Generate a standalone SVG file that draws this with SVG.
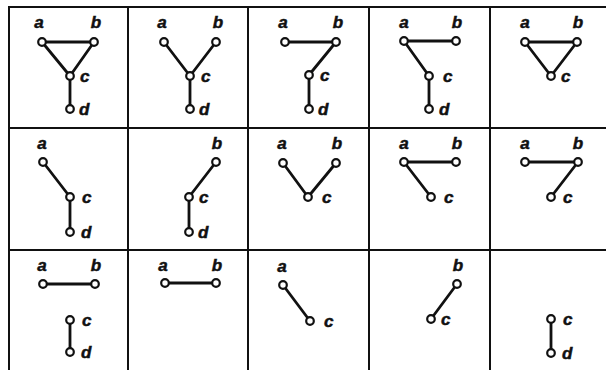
<svg xmlns="http://www.w3.org/2000/svg" width="606" height="370" viewBox="0 0 606 370">
<style>
.grid{stroke:#111;stroke-width:2;fill:none}
.edge{stroke:#111;stroke-width:2.8;fill:none;stroke-linecap:round}
.node circle{fill:#fff;stroke:#111;stroke-width:2.2}
.node text{font-family:"Liberation Sans",Arial,sans-serif;font-weight:bold;font-style:italic;font-size:17px;fill:#111;stroke:#111;stroke-width:0.5}
.top{text-anchor:middle}
</style>
<rect width="606" height="370" fill="#fff"/>
<g id="grid" class="grid">
<line x1="9" y1="6" x2="9" y2="370"/>
<line x1="128" y1="6" x2="128" y2="370"/>
<line x1="248" y1="6" x2="248" y2="370"/>
<line x1="369" y1="6" x2="369" y2="370"/>
<line x1="490" y1="6" x2="490" y2="370"/>
<line x1="8" y1="7" x2="606" y2="7"/>
<line x1="8" y1="128" x2="606" y2="128"/>
<line x1="8" y1="250" x2="606" y2="250"/>
</g>
<g id="connectors" class="edge">
<line x1="42" y1="42" x2="94" y2="42"/><line x1="42" y1="42" x2="70" y2="76"/><line x1="94" y1="42" x2="70" y2="76"/><line x1="70" y1="76" x2="70" y2="109"/>
<line x1="164" y1="42" x2="190" y2="76"/><line x1="216" y1="42" x2="190" y2="76"/><line x1="190" y1="76" x2="190" y2="109"/>
<line x1="285" y1="42" x2="336" y2="42"/><line x1="336" y1="42" x2="309" y2="75"/><line x1="309" y1="75" x2="309" y2="109"/>
<line x1="404" y1="41" x2="456" y2="41"/><line x1="404" y1="41" x2="429" y2="76"/><line x1="429" y1="76" x2="429" y2="109"/>
<line x1="525" y1="42" x2="577" y2="42"/><line x1="525" y1="42" x2="551" y2="76"/><line x1="577" y1="42" x2="551" y2="76"/>
<line x1="43" y1="162" x2="70" y2="197"/><line x1="70" y1="197" x2="70" y2="232"/>
<line x1="216" y1="162" x2="189" y2="197"/><line x1="189" y1="197" x2="189" y2="232"/>
<line x1="283" y1="163" x2="308" y2="197"/><line x1="336" y1="163" x2="308" y2="197"/>
<line x1="404" y1="162" x2="456" y2="162"/><line x1="404" y1="162" x2="431" y2="197"/>
<line x1="525" y1="162" x2="578" y2="162"/><line x1="578" y1="162" x2="551" y2="197"/>
<line x1="43" y1="284" x2="95" y2="284"/><line x1="70" y1="320" x2="70" y2="352"/>
<line x1="165" y1="283" x2="216" y2="283"/>
<line x1="283" y1="285" x2="310" y2="321"/>
<line x1="457" y1="284" x2="431" y2="319"/>
<line x1="551" y1="319" x2="551" y2="353"/>
</g>
<g id="r1c1-a" class="node"><circle cx="42" cy="42" r="3.8"/><text class="top" x="39" y="28">a</text></g>
<g id="r1c1-b" class="node"><circle cx="94" cy="42" r="3.8"/><text class="top" x="96" y="28">b</text></g>
<g id="r1c1-c" class="node"><circle cx="70" cy="76" r="3.8"/><text x="80" y="82">c</text></g>
<g id="r1c1-d" class="node"><circle cx="70" cy="109" r="3.8"/><text x="79" y="115">d</text></g>
<g id="r1c2-a" class="node"><circle cx="164" cy="42" r="3.8"/><text class="top" x="162" y="28">a</text></g>
<g id="r1c2-b" class="node"><circle cx="216" cy="42" r="3.8"/><text class="top" x="218" y="28">b</text></g>
<g id="r1c2-c" class="node"><circle cx="190" cy="76" r="3.8"/><text x="201" y="82">c</text></g>
<g id="r1c2-d" class="node"><circle cx="190" cy="109" r="3.8"/><text x="199" y="115">d</text></g>
<g id="r1c3-a" class="node"><circle cx="285" cy="42" r="3.8"/><text class="top" x="283" y="28">a</text></g>
<g id="r1c3-b" class="node"><circle cx="336" cy="42" r="3.8"/><text class="top" x="338" y="28">b</text></g>
<g id="r1c3-c" class="node"><circle cx="309" cy="75" r="3.8"/><text x="320" y="81">c</text></g>
<g id="r1c3-d" class="node"><circle cx="309" cy="109" r="3.8"/><text x="318" y="115">d</text></g>
<g id="r1c4-a" class="node"><circle cx="404" cy="41" r="3.8"/><text class="top" x="404" y="28">a</text></g>
<g id="r1c4-b" class="node"><circle cx="456" cy="41" r="3.8"/><text class="top" x="457" y="28">b</text></g>
<g id="r1c4-c" class="node"><circle cx="429" cy="76" r="3.8"/><text x="443" y="82">c</text></g>
<g id="r1c4-d" class="node"><circle cx="429" cy="109" r="3.8"/><text x="439" y="115">d</text></g>
<g id="r1c5-a" class="node"><circle cx="525" cy="42" r="3.8"/><text class="top" x="525" y="28">a</text></g>
<g id="r1c5-b" class="node"><circle cx="577" cy="42" r="3.8"/><text class="top" x="578" y="28">b</text></g>
<g id="r1c5-c" class="node"><circle cx="551" cy="76" r="3.8"/><text x="561" y="82">c</text></g>
<g id="r2c1-a" class="node"><circle cx="43" cy="162" r="3.8"/><text class="top" x="42" y="149">a</text></g>
<g id="r2c1-c" class="node"><circle cx="70" cy="197" r="3.8"/><text x="82" y="203">c</text></g>
<g id="r2c1-d" class="node"><circle cx="70" cy="232" r="3.8"/><text x="81" y="238">d</text></g>
<g id="r2c2-b" class="node"><circle cx="216" cy="162" r="3.8"/><text class="top" x="217" y="149">b</text></g>
<g id="r2c2-c" class="node"><circle cx="189" cy="197" r="3.8"/><text x="199" y="203">c</text></g>
<g id="r2c2-d" class="node"><circle cx="189" cy="232" r="3.8"/><text x="198" y="238">d</text></g>
<g id="r2c3-a" class="node"><circle cx="283" cy="163" r="3.8"/><text class="top" x="282" y="149">a</text></g>
<g id="r2c3-b" class="node"><circle cx="336" cy="163" r="3.8"/><text class="top" x="337" y="149">b</text></g>
<g id="r2c3-c" class="node"><circle cx="308" cy="197" r="3.8"/><text x="322" y="203">c</text></g>
<g id="r2c4-a" class="node"><circle cx="404" cy="162" r="3.8"/><text class="top" x="404" y="149">a</text></g>
<g id="r2c4-b" class="node"><circle cx="456" cy="162" r="3.8"/><text class="top" x="457" y="149">b</text></g>
<g id="r2c4-c" class="node"><circle cx="431" cy="197" r="3.8"/><text x="444" y="203">c</text></g>
<g id="r2c5-a" class="node"><circle cx="525" cy="162" r="3.8"/><text class="top" x="525" y="149">a</text></g>
<g id="r2c5-b" class="node"><circle cx="578" cy="162" r="3.8"/><text class="top" x="578" y="149">b</text></g>
<g id="r2c5-c" class="node"><circle cx="551" cy="197" r="3.8"/><text x="563" y="203">c</text></g>
<g id="r3c1-a" class="node"><circle cx="43" cy="284" r="3.8"/><text class="top" x="42" y="271">a</text></g>
<g id="r3c1-b" class="node"><circle cx="95" cy="284" r="3.8"/><text class="top" x="96" y="271">b</text></g>
<g id="r3c1-c" class="node"><circle cx="70" cy="320" r="3.8"/><text x="82" y="326">c</text></g>
<g id="r3c1-d" class="node"><circle cx="70" cy="352" r="3.8"/><text x="81" y="358">d</text></g>
<g id="r3c2-a" class="node"><circle cx="165" cy="283" r="3.8"/><text class="top" x="163" y="271">a</text></g>
<g id="r3c2-b" class="node"><circle cx="216" cy="283" r="3.8"/><text class="top" x="217" y="271">b</text></g>
<g id="r3c3-a" class="node"><circle cx="283" cy="285" r="3.8"/><text class="top" x="282" y="272">a</text></g>
<g id="r3c3-c" class="node"><circle cx="310" cy="321" r="3.8"/><text x="324" y="327">c</text></g>
<g id="r3c4-b" class="node"><circle cx="457" cy="284" r="3.8"/><text class="top" x="458" y="271">b</text></g>
<g id="r3c4-c" class="node"><circle cx="431" cy="319" r="3.8"/><text x="441" y="325">c</text></g>
<g id="r3c5-c" class="node"><circle cx="551" cy="319" r="3.8"/><text x="563" y="325">c</text></g>
<g id="r3c5-d" class="node"><circle cx="551" cy="353" r="3.8"/><text x="562" y="359">d</text></g>
</svg>
